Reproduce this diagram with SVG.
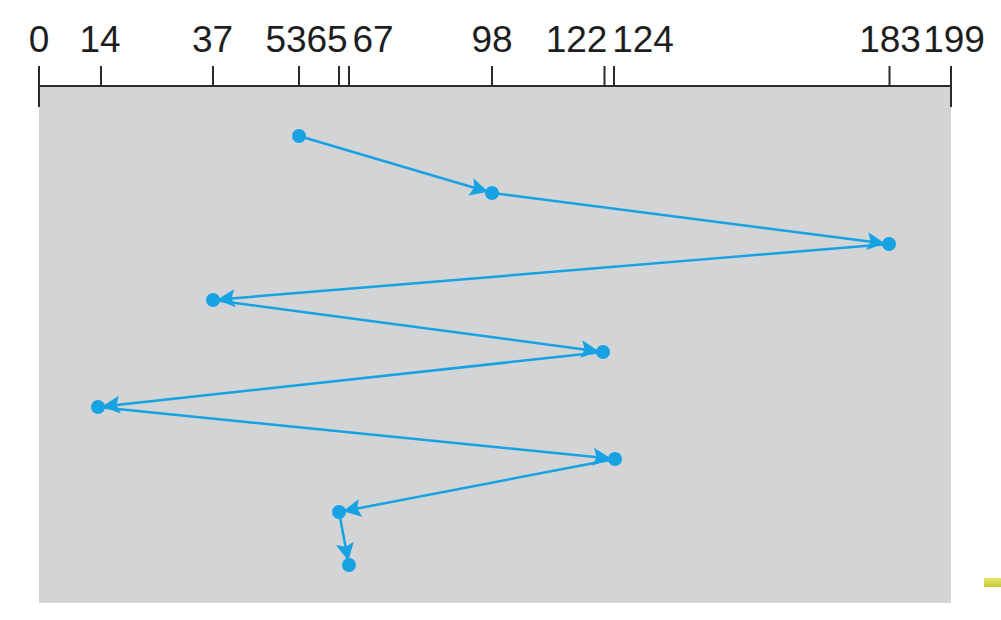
<svg xmlns="http://www.w3.org/2000/svg" width="1001" height="620" viewBox="0 0 1001 620">
<style>
.lbl{font-family:"Liberation Sans",Arial,sans-serif;font-size:37px;fill:#1e1e1e;text-anchor:middle}
.axis{stroke:#2a2a2a;stroke-width:2;fill:none}
.con{stroke:#17a2e3;stroke-width:2.5;fill:none;marker-end:url(#ah)}
.dot{fill:#17a2e3}
</style>
<defs>
<marker id="ah" markerUnits="userSpaceOnUse" viewBox="-25 -12 30 24" refX="0" refY="0" markerWidth="30" markerHeight="24" orient="auto">
<path d="M-4,0 L-22,-9 L-18.5,0 L-22,9 z" fill="#17a2e3"/>
</marker>
<linearGradient id="yl" x1="0" y1="0" x2="0" y2="1">
<stop offset="0" stop-color="#e8e86a"/>
<stop offset="1" stop-color="#c8c838"/>
</linearGradient>
</defs>
<rect x="0" y="0" width="1001" height="620" fill="#ffffff"/>
<rect x="39" y="86" width="912" height="517" fill="#d2d4d6"/>
<rect x="984" y="578" width="17" height="9" fill="url(#yl)"/>
<g id="axis">
<line class="axis" x1="39" y1="86" x2="951" y2="86"/>
<line class="axis" x1="39" y1="66" x2="39" y2="107"/>
<line class="axis" x1="951" y1="66" x2="951" y2="107"/>
<line class="axis" x1="101" y1="66" x2="101" y2="86"/>
<line class="axis" x1="213" y1="66" x2="213" y2="86"/>
<line class="axis" x1="299" y1="66" x2="299" y2="86"/>
<line class="axis" x1="339" y1="66" x2="339" y2="86"/>
<line class="axis" x1="349" y1="66" x2="349" y2="86"/>
<line class="axis" x1="492" y1="66" x2="492" y2="86"/>
<line class="axis" x1="604.5" y1="66" x2="604.5" y2="86"/>
<line class="axis" x1="614" y1="66" x2="614" y2="86"/>
<line class="axis" x1="889.5" y1="66" x2="889.5" y2="86"/>
<text class="lbl" x="39" y="52">0</text>
<text class="lbl" x="100" y="52">14</text>
<text class="lbl" x="212.5" y="52">37</text>
<text class="lbl" x="286" y="52">53</text>
<text class="lbl" x="327" y="52">65</text>
<text class="lbl" x="373" y="52">67</text>
<text class="lbl" x="492" y="52">98</text>
<text class="lbl" x="576.5" y="52">122</text>
<text class="lbl" x="643" y="52">124</text>
<text class="lbl" x="890" y="52">183</text>
<text class="lbl" x="954" y="52">199</text>
</g>
<g id="connectors">
<path class="con" d="M299,136 L492,193"/>
<path class="con" d="M492,193 L889,244"/>
<path class="con" d="M889,244 L213,300"/>
<path class="con" d="M213,300 L603,352"/>
<path class="con" d="M603,352 L98,407"/>
<path class="con" d="M98,407 L615,459"/>
<path class="con" d="M615,459 L339,512"/>
<path class="con" d="M339,512 L349,565"/>
</g>
<g id="n53"><circle class="dot" cx="299" cy="136" r="7"/></g>
<g id="n98"><circle class="dot" cx="492" cy="193" r="7"/></g>
<g id="n183"><circle class="dot" cx="889" cy="244" r="7"/></g>
<g id="n37"><circle class="dot" cx="213" cy="300" r="7"/></g>
<g id="n122"><circle class="dot" cx="603" cy="352" r="7"/></g>
<g id="n14"><circle class="dot" cx="98" cy="407" r="7"/></g>
<g id="n124"><circle class="dot" cx="615" cy="459" r="7"/></g>
<g id="n65"><circle class="dot" cx="339" cy="512" r="7"/></g>
<g id="n67"><circle class="dot" cx="349" cy="565" r="7"/></g>
</svg>
